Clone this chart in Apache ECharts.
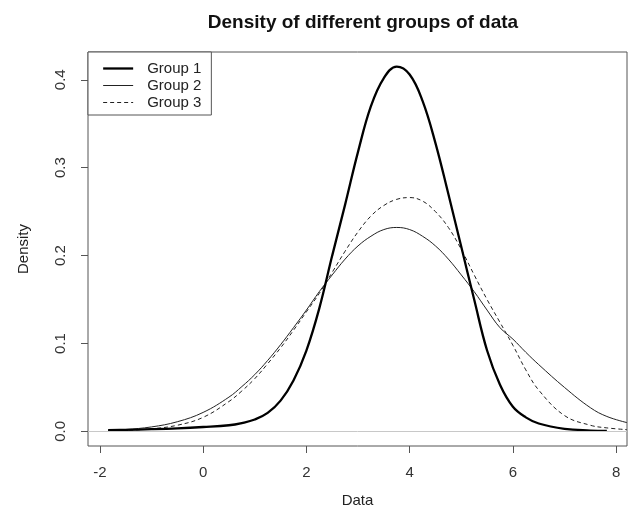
<!DOCTYPE html>
<html>
<head>
<meta charset="utf-8">
<title>Density of different groups of data</title>
<script src="https://cdn.jsdelivr.net/npm/echarts@6/dist/echarts.min.js"></script>
<style>
  html, body { margin: 0; padding: 0; background: #fff; }
  #chart { width: 630px; height: 510px; }
</style>
</head>
<body>
<div id="chart"></div>
<script>
// values
var xs = [-1.84, -1.5, -1, -0.5, 0, 0.5, 0.75, 1, 1.25, 1.5, 1.75, 2, 2.25, 2.5, 2.75, 3, 3.25, 3.5, 3.75,
          4, 4.25, 4.5, 4.75, 5, 5.25, 5.5, 5.75, 6, 6.25, 6.5, 7, 7.5, 7.82, 8.21];
var group1 = [0.0015, 0.0018, 0.0025, 0.0035, 0.005, 0.007, 0.0095, 0.0135, 0.021, 0.035, 0.058, 0.092, 0.140, 0.200, 0.258, 0.318, 0.370, 0.402, 0.415,
              0.406, 0.376, 0.328, 0.270, 0.210, 0.150, 0.092, 0.053, 0.028, 0.016, 0.009, 0.003, 0.001, 0.0005, null];
var group2 = [0.0013, 0.0022, 0.0051, 0.011, 0.0216, 0.039, 0.051, 0.0646, 0.0807, 0.0986, 0.118, 0.138, 0.159, 0.178, 0.196, 0.211, 0.222, 0.2296, 0.232,
              0.2296, 0.222, 0.211, 0.196, 0.178, 0.159, 0.138, 0.118, 0.105, 0.090, 0.076, 0.050, 0.027, 0.017, 0.010];
var group3 = [0.0008, 0.0012, 0.003, 0.007, 0.016, 0.034, 0.046, 0.060, 0.077, 0.095, 0.115, 0.136, 0.157, 0.181, 0.205, 0.227, 0.245, 0.257, 0.264,
              0.266, 0.262, 0.250, 0.232, 0.207, 0.178, 0.150, 0.124, 0.098, 0.070, 0.047, 0.018, 0.007, 0.004, 0.002];
var xTicks = [-2, 0, 2, 4, 6, 8];
var yTicks = [0, 0.1, 0.2, 0.3, 0.4];

function pairs(ys) {
    var out = [];
    for (var i = 0; i < xs.length; i++) {
        if (ys[i] !== null) out.push([xs[i], ys[i]]);
    }
    return out;
}

var myChart = echarts.init(document.getElementById('chart'), null, { renderer: 'canvas' });
var font = 'Liberation Sans, Arial, sans-serif';

var option = {
    backgroundColor: '#fff',
    animation: false,
    textStyle: { fontFamily: font },
    title: {
        text: 'Density of different groups of data',
        left: 358,
        top: 8,
        textAlign: 'center',
        textStyle: { fontSize: 19, fontWeight: 'bold', color: '#111', fontFamily: font }
    },
    legend: {
        orient: 'vertical',
        left: 88,
        top: 52,
        itemWidth: 30,
        itemHeight: 12,
        itemGap: 2,
        padding: [9, 10, 5, 14],
        borderColor: '#555',
        borderWidth: 1,
        backgroundColor: '#fff',
        itemStyle: { opacity: 0, borderWidth: 0 },
        textStyle: { fontSize: 15, color: '#222', fontFamily: font, padding: [0, 0, 0, 9] },
        data: [
            { name: 'Group 1', lineStyle: { width: 2.3, color: '#000' } },
            { name: 'Group 2', lineStyle: { width: 1, color: '#222' } },
            { name: 'Group 3', lineStyle: { width: 1, color: '#222', type: [4, 3] } }
        ]
    },
    grid: {
        left: 88,
        right: 3,
        top: 52,
        bottom: 64,
        outerBoundsMode: 'none',
        show: true,
        borderColor: '#555',
        borderWidth: 1,
        backgroundColor: 'transparent'
    },
    xAxis: {
        type: 'value',
        min: -2.23,
        max: 8.21,
        name: 'Data',
        nameLocation: 'middle',
        nameGap: 47,
        nameTextStyle: { fontSize: 15, color: '#222', fontFamily: font },
        axisLine: { show: false, onZero: false },
        axisTick: { show: true, inside: false, length: 7, customValues: xTicks, lineStyle: { color: '#555' } },
        axisLabel: { customValues: xTicks, margin: 19, fontSize: 15, color: '#333', fontFamily: font },
        splitLine: { show: false }
    },
    yAxis: {
        type: 'value',
        min: -0.0166,
        max: 0.4316,
        name: 'Density',
        nameLocation: 'middle',
        nameGap: 57,
        nameTextStyle: { fontSize: 15, color: '#222', fontFamily: font },
        axisLine: { show: false, onZero: false },
        axisTick: { show: true, inside: false, length: 7, customValues: yTicks, lineStyle: { color: '#555' } },
        axisLabel: {
            customValues: yTicks, rotate: 90, margin: 20, fontSize: 15, color: '#333', fontFamily: font,
            formatter: function (v) { return v.toFixed(1); }
        },
        splitLine: { show: false }
    },
    series: [
        {
            name: 'Group 1',
            type: 'line',
            data: pairs(group1),
            smooth: 0.4,
            symbol: 'none',
            lineStyle: { color: '#000', width: 2.3 },
            itemStyle: { color: '#000' },
            markLine: {
                silent: true,
                symbol: 'none',
                label: { show: false },
                lineStyle: { color: '#c8c8c8', type: 'solid', width: 1 },
                data: [{ yAxis: 0 }]
            },
            z: 3
        },
        {
            name: 'Group 2',
            type: 'line',
            data: pairs(group2),
            smooth: 0.4,
            symbol: 'none',
            lineStyle: { color: '#222', width: 1 },
            itemStyle: { color: '#222' },
            z: 2
        },
        {
            name: 'Group 3',
            type: 'line',
            data: pairs(group3),
            smooth: 0.4,
            symbol: 'none',
            lineStyle: { color: '#222', width: 1, type: [4, 3] },
            itemStyle: { color: '#222' },
            z: 2
        }
    ]
};

option && myChart.setOption(option);
</script>
</body>
</html>
